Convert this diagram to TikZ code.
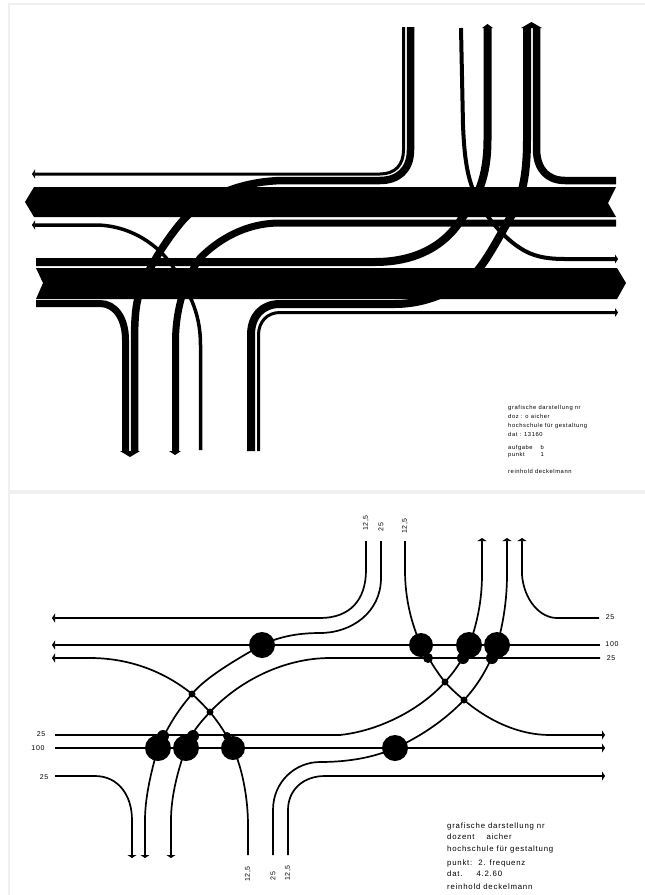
\documentclass[tikz,border=0pt]{standalone}
\usepackage{fontspec}
\newfontfamily\plakatfont[LetterSpace=10]{Liberation Sans}
\usetikzlibrary{arrows.meta, positioning}
\definecolor{paperedge}{HTML}{F0F0F0}

\begin{document}
\begin{tikzpicture}[
  x=1pt, y=-1pt,
  lane/.style={black, line width=#1, line cap=butt},
  band/.style={fill=black, draw=none},
  headcap/.style={fill=black, draw=none},
  flow/.style={black, line width=#1},
  flow/.default=1.7pt,
  bigdot/.style={circle, fill=black, inner sep=0pt, minimum size=#1},
  bigdot/.default=26pt,
  smalldot/.style={circle, fill=black, inner sep=0pt, minimum size=#1},
  smalldot/.default=7pt,
  endtipL/.style={{Triangle[length=3pt,width=9pt]}-},
  endtipR/.style={-{Triangle[length=3pt,width=9pt]}},
  numlabel/.style={font=\fontsize{7}{8}\selectfont\plakatfont, inner sep=0pt},
  noteA/.style={font=\fontsize{5.8}{7}\selectfont\plakatfont, anchor=base west, inner sep=0pt},
  noteB/.style={font=\fontsize{7.8}{9}\selectfont\plakatfont, anchor=base west, inner sep=0pt},
]
\useasboundingbox (0,0) rectangle (645,895);

% Sheet edges
\draw[paperedge, line width=2pt] (9,895) -- (9,4) -- (645,4);
\fill[paperedge] (9,490) rectangle (645,494);

% Upper sheet: the two wide bands
\fill[band] (34,187) -- (25,202) -- (34,217) -- (616,217) -- (608,203) -- (616,187) -- cycle;
\fill[band] (36,268) -- (43,283) -- (36,299) -- (617,299) -- (626,283) -- (617,268) -- cycle;

% Upper sheet: lanes
\draw[lane=3pt, endtipL] (32,174) -- (380,174) .. controls (395,174) and (403.5,165) .. (403.5,150) -- (403.5,27);
\draw[lane=7.5pt] (410.5,27) -- (410.5,150) .. controls (410.5,170) and (398,180.5) .. (380,180.5) -- (285,180.5) .. controls (250,180.5) and (210,192) .. (185,218) .. controls (172,232) and (145,270) .. (138,298) .. controls (135,310) and (134.5,325) .. (134.5,345) -- (134.5,452);
\draw[lane=7pt] (36,303.5) -- (100,303.5) .. controls (115,303.5) and (125.5,318) .. (125.5,340) -- (125.5,452);
\draw[lane=7pt] (616,223) -- (280,223) .. controls (245,223) and (218,240) .. (200,258) .. controls (190,272) and (176,300) .. (175.5,340) -- (175.5,452);
\draw[lane=3.5pt, endtipL] (32,225) -- (95,225) .. controls (130,225) and (160,245) .. (175,270) .. controls (187,290) and (200.5,310) .. (200.5,345) -- (200.5,450);
\draw[lane=8pt] (36,262) -- (375,262) .. controls (420,262) and (448,242) .. (462,218) .. controls (472,205) and (487.5,185) .. (487.5,140) -- (487.5,27);
\draw[lane=4pt, endtipR] (461,28) -- (463,125) .. controls (464,150) and (466,170) .. (472,187) .. controls (480,210) and (500,235) .. (520,248) .. controls (532,256) and (545,259) .. (565,259) -- (618,259);
\draw[lane=8pt] (527,28) -- (527,140) .. controls (527,175) and (522,200) .. (510,218) .. controls (500,235) and (490,255) .. (478,270) .. controls (455,292) and (425,304) .. (395,304) -- (280,304) .. controls (262,304) and (251,316) .. (251,335) -- (251,451);
\draw[lane=7.5pt] (536.5,28) -- (536.5,150) .. controls (537,170) and (548,180.5) .. (565,180.5) -- (616,180.5);
\draw[lane=3pt, endtipR] (258.5,451) -- (258.5,335) .. controls (258.5,322) and (267,312.5) .. (280,312.5) -- (618,312.5);

% Upper sheet: arrow caps
\fill[headcap] (120,451) -- (140,451) -- (130,457) -- cycle;
\fill[headcap] (169,451) -- (181,451) -- (175,455) -- cycle;
\fill[headcap] (482,28) -- (493,28) -- (487.5,24) -- cycle;
\fill[headcap] (521,28) -- (542,28) -- (531.5,22) -- cycle;

% Upper sheet: note
\node[noteA] (a1) at (508,409) {grafische darstellung nr};
\node[noteA] (a2) at (508,418) {doz : o aicher};
\node[noteA] (a3) at (508,427) {hochschule für gestaltung};
\node[noteA] (a4) at (508,436) {dat : 13160};
\node[noteA] (a5) at (508,449) {aufgabe\hspace{8pt}b};
\node[noteA] (a6) at (508,456) {punkt\hspace{16pt}1};
\node[noteA] (a7) at (508,473) {reinhold deckelmann};

% Lower sheet: large dots on the 100 lines
\node[bigdot] (p1) at (262,645) {};
\node[bigdot=24pt] (p2) at (421,645) {};
\node[bigdot] (p3) at (469,645) {};
\node[bigdot] (p4) at (497,645) {};
\node[bigdot] (p5) at (158,748) {};
\node[bigdot] (p6) at (186,748) {};
\node[bigdot=24pt] (p7) at (233,748) {};
\node[bigdot] (p8) at (395,748) {};

% Lower sheet: small dots on the 25 lines
\node[smalldot=10pt] (q1) at (428,658) {};
\node[smalldot=12pt] (q2) at (463,658) {};
\node[smalldot=12pt] (q3) at (492,658) {};
\node[smalldot=12pt] (q4) at (163,736) {};
\node[smalldot=12pt] (q5) at (193,736) {};
\node[smalldot=8pt] (q6) at (227,736) {};

% Lower sheet: crossings
\node[smalldot] (x1) at (192,694) {};
\node[smalldot] (x2) at (210,712) {};
\node[smalldot] (x3) at (445,682) {};
\node[smalldot] (x4) at (464,700) {};

% Lower sheet: line ends
\coordinate (w1) at (52,618);
\coordinate (w2) at (52,645);
\coordinate (w3) at (52,658);
\coordinate (w4) at (55,735);
\coordinate (w5) at (55,748);
\coordinate (w6) at (55,776);
\coordinate (e1) at (599,618);
\coordinate (e2) at (600,645);
\coordinate (e3) at (600,658);
\coordinate (e4) at (605,735);
\coordinate (e5) at (605,748);
\coordinate (e6) at (605,776);
\coordinate (n1) at (366,541);
\coordinate (n2) at (381,541);
\coordinate (n3) at (405,541);
\coordinate (n4) at (482,538);
\coordinate (n5) at (507,538);
\coordinate (n6) at (522,538);
\coordinate (s1) at (132,858);
\coordinate (s2) at (145,858);
\coordinate (s3) at (171,858);
\coordinate (s4) at (248,855);
\coordinate (s5) at (273,855);
\coordinate (s6) at (288,855);

% Lower sheet: straight lines
\draw[flow=2.2pt, endtipL] (w2) -- (e2);
\draw[flow=2.2pt, endtipR] (w5) -- (e5);

% Lower sheet: curved lines
\draw[flow, endtipL] (w1) -- (320,618) .. controls (350,618) and (366,600) .. (366,570) -- (n1);
\draw[flow, endtipR] (n2) -- (381,578) .. controls (381,612) and (352,633) .. (320,633) .. controls (300,633) and (280,636) .. (p1.center) .. controls (235,660) and (205,678) .. (x1.center) .. controls (180,708) and (170,722) .. (p5.center) .. controls (150,775) and (145,800) .. (145,820) -- (s2);
\draw[flow, endtipR] (e3) -- (330,658) .. controls (285,658) and (240,680) .. (x2.center) .. controls (198,725) and (192,732) .. (p6.center) .. controls (176,775) and (171,800) .. (171,820) -- (s3);
\draw[flow, endtipL] (w3) -- (90,658) .. controls (130,658) and (165,672) .. (x1.center) .. controls (200,701) and (205,707) .. (x2.center) .. controls (218,722) and (226,733) .. (p7.center) .. controls (243,770) and (248,800) .. (248,825) -- (s4);
\draw[flow, endtipR] (n3) -- (405,570) .. controls (405,600) and (412,625) .. (p2.center) .. controls (425,652) and (435,670) .. (x3.center) .. controls (450,688) and (458,695) .. (x4.center) .. controls (490,722) and (520,735) .. (550,735) -- (e4);
\draw[flow, endtipL] (n4) -- (482,575) .. controls (482,600) and (477,625) .. (p3.center) .. controls (460,665) and (452,674) .. (x3.center) .. controls (425,705) and (385,730) .. (340,735) -- (w4);
\draw[flow, endtipL] (n5) -- (507,575) .. controls (507,600) and (503,625) .. (p4.center) .. controls (488,668) and (478,685) .. (x4.center) .. controls (445,720) and (420,737) .. (p8.center) .. controls (375,757) and (350,762) .. (320,762) .. controls (295,762) and (273,782) .. (273,810) -- (s5);
\draw[flow, endtipR] (s6) -- (288,810) .. controls (288,790) and (303,776) .. (325,776) -- (e6);
\draw[flow, endtipR] (w6) -- (95,776) .. controls (118,776) and (132,795) .. (132,820) -- (s1);
\draw[flow, endtipL] (n6) -- (522,575) .. controls (524,600) and (540,618) .. (557,618) -- (e1);

% Lower sheet: flow numbers
\node[numlabel] (l1) at (41,734) {25};
\node[numlabel] (l2) at (38,748) {100};
\node[numlabel] (l3) at (44,777) {25};
\node[numlabel] (r1) at (610,617) {25};
\node[numlabel] (r2) at (612,644) {100};
\node[numlabel] (r3) at (611,658) {25};
\node[numlabel, rotate=90] (t1) at (366,523) {12,5};
\node[numlabel, rotate=90] (t2) at (381,527) {25};
\node[numlabel, rotate=90] (t3) at (405,526) {12,5};
\node[numlabel, rotate=90] (b1) at (248,874) {12,5};
\node[numlabel, rotate=90] (b2) at (273,876) {25};
\node[numlabel, rotate=90] (b3) at (288,873) {12,5};

% Lower sheet: note
\node[noteB] (c1) at (447,828) {grafische darstellung nr};
\node[noteB] (c2) at (447,839) {dozent\hspace{12pt}aicher};
\node[noteB] (c3) at (447,851) {hochschule für gestaltung};
\node[noteB] (c4) at (447,865) {punkt:\hspace{6pt}2. frequenz};
\node[noteB] (c5) at (447,876) {dat.\hspace{14pt}4.2.60};
\node[noteB] (c6) at (447,889) {reinhold deckelmann};

\end{tikzpicture}
\end{document}
